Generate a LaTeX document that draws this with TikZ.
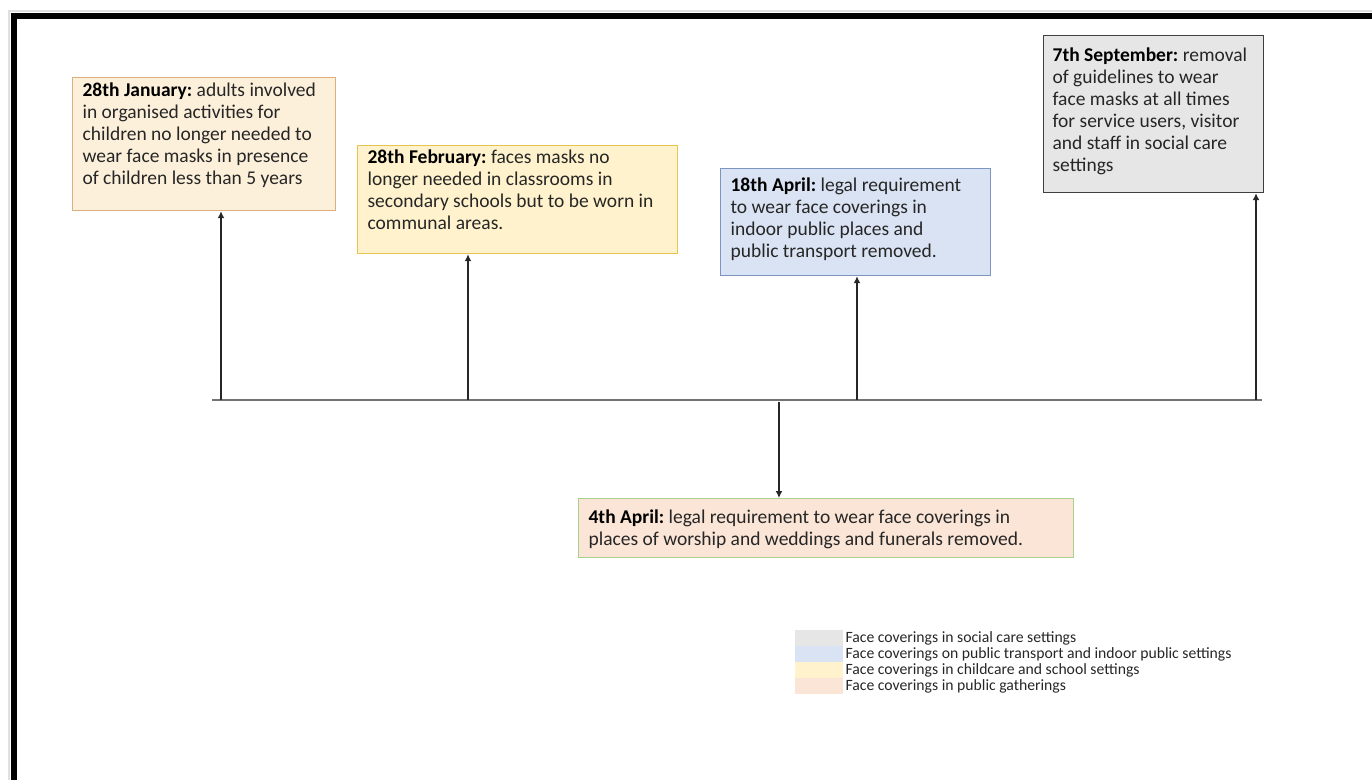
\documentclass[tikz,border=0pt]{standalone}
\usepackage{fontspec}
\setmainfont{Carlito}
\usetikzlibrary{arrows.meta}
\frenchspacing
\hyphenpenalty=10000
\definecolor{txt}{HTML}{262626}
\definecolor{janfill}{HTML}{FDF0DA}
\definecolor{janline}{HTML}{DDAF7E}
\definecolor{febfill}{HTML}{FFF2CC}
\definecolor{febline}{HTML}{E6C450}
\definecolor{aprfill}{HTML}{DAE3F3}
\definecolor{aprline}{HTML}{7D95C2}
\definecolor{sepfill}{HTML}{E7E6E6}
\definecolor{sepline}{HTML}{3F3F3F}
\definecolor{gatfill}{HTML}{FBE5D6}
\definecolor{gatline}{HTML}{A9D18E}
\newcommand{\datehead}[1]{{\color{black}\bfseries #1}}
% box body: width, height, space above the first line, text
\newcommand{\evbody}[4]{\parbox[c][#2][t]{#1}{\raggedright\vspace*{#3}#4}}
\tikzset{
  event/.style={draw, line width=1.2pt, anchor=north west, inner xsep=10pt, inner ysep=0pt,
    text=txt, font=\fontsize{19.5}{22}\selectfont},
  arr/.style={line width=1.8pt, draw=black!85, -{Latex[length=7pt,width=7pt]}},
  legendswatch/.style={minimum width=48pt, minimum height=16pt, inner sep=0pt, anchor=north west},
  legendtext/.style={anchor=west, inner sep=0pt, text=txt, font=\fontsize{15.7}{16}\selectfont},
}
\begin{document}
\begin{tikzpicture}[x=1pt,y=-1pt]
\useasboundingbox (0,0) rectangle (1372,779);
% page frame
\draw[line width=2pt, black!12] (9,790) -- (9,11) -- (1380,11);
\draw[line width=6pt, black] (13.5,790) -- (13.5,15.5) -- (1380,15.5);

% events
\node[event, fill=janfill, draw=janline] (jan) at (72,77)
  {\evbody{243pt}{133pt}{5pt}{\datehead{28th January:} adults involved\\in organised activities for\\children no longer needed to\\wear face masks in presence\\of children less than 5 years}};
\node[event, fill=febfill, draw=febline] (feb) at (357,145)
  {\evbody{300pt}{108pt}{4pt}{\datehead{28th February:} faces masks no\\longer needed in classrooms in\\secondary schools but to be worn in\\communal areas.}};
\node[event, fill=aprfill, draw=aprline] (apr) at (720,168)
  {\evbody{250pt}{107pt}{9pt}{\datehead{18th April:} legal requirement\\to wear face coverings in\\indoor public places and\\public transport removed.}};
\node[event, fill=sepfill, draw=sepline, inner xsep=9pt] (sep) at (1043,35)
  {\evbody{202pt}{157pt}{12pt}{\datehead{7th September:} removal\\of guidelines to wear\\face masks at all times\\for service users, visitor\\and staff in social care\\settings}};
\node[event, fill=gatfill, draw=gatline] (gat) at (578,498)
  {\evbody{475pt}{59pt}{11pt}{\datehead{4th April:} legal requirement to wear face coverings in\\places of worship and weddings and funerals removed.}};

% timeline
\coordinate (tl) at (212,400);
\coordinate (tr) at (1262,400);
\coordinate (t1) at (221,400);
\coordinate (t2) at (468,400);
\coordinate (t3) at (857,400);
\coordinate (t4) at (1256,400);
\coordinate (t5) at (779,402);
\draw[line width=1.6pt, black!55] (tl) -- (tr);
\draw[arr] (t1) -- (t1 |- jan.south);
\draw[arr] (t2) -- (t2 |- feb.south);
\draw[arr] (t3) -- (t3 |- apr.south);
\draw[arr] (t4) -- (t4 |- sep.south);
\draw[arr] (t5) -- (t5 |- gat.north);

% legend
\node[legendswatch, fill=sepfill] (k1) at (795,630) {};
\node[legendswatch, fill=aprfill] (k2) at (795,646) {};
\node[legendswatch, fill=febfill] (k3) at (795,662) {};
\node[legendswatch, fill=gatfill] (k4) at (795,678) {};
\node[legendtext] (l1) at ([xshift=2pt]k1.east) {Face coverings in social care settings};
\node[legendtext] (l2) at ([xshift=2pt]k2.east) {Face coverings on public transport and indoor public settings};
\node[legendtext] (l3) at ([xshift=2pt]k3.east) {Face coverings in childcare and school settings};
\node[legendtext] (l4) at ([xshift=2pt]k4.east) {Face coverings in public gatherings};
\end{tikzpicture}
\end{document}
